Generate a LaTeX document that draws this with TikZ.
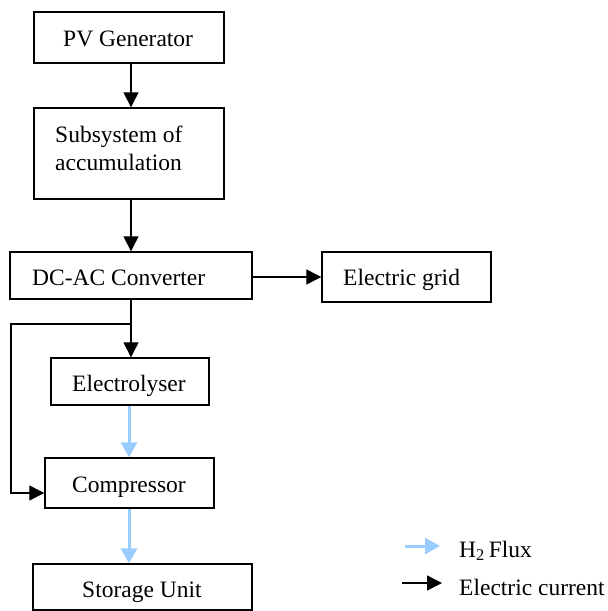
\documentclass[tikz,border=0pt]{standalone}
\usepackage{fontspec}
\setmainfont{Liberation Serif}
\usetikzlibrary{arrows.meta}
\definecolor{hblue}{RGB}{153,204,255}
\begin{document}
\begin{tikzpicture}[x=1pt,y=-1pt,
  box/.style={draw,line width=1.4pt,inner sep=0pt},
  txt/.style={font=\fontsize{23.5}{28}\selectfont,inner sep=0pt,anchor=base west},
  elec/.style={line width=1.3pt,-{Triangle[length=15pt,width=15pt]}},
  flux/.style={hblue,line width=3pt,-{Triangle[length=15pt,width=16pt]}}]
\useasboundingbox (0,0) rectangle (608,611);
% boxes
\node[box,minimum width=190pt,minimum height=51pt] (pv) at (129,37.5) {};
\node[box,minimum width=190pt,minimum height=91pt] (sub) at (129,153.5) {};
\node[box,minimum width=242pt,minimum height=47pt] (dc) at (131,275.5) {};
\node[box,minimum width=169pt,minimum height=50pt] (grid) at (406.5,277) {};
\node[box,minimum width=158pt,minimum height=47pt] (el) at (130,381.5) {};
\node[box,minimum width=169pt,minimum height=50pt] (cp) at (129.5,483) {};
\node[box,minimum width=219pt,minimum height=46pt] (st) at (142.5,587) {};
% texts
\node[txt] (tpv) at (63,46) {PV Generator};
\node[txt] (tsub1) at (55,142) {Subsystem of};
\node[txt] (tsub2) at (55,170) {accumulation};
\node[txt] (tdc) at (32,285) {DC-AC Converter};
\node[txt] (tgrid) at (343,285) {Electric grid};
\node[txt] (tel) at (72,391) {Electrolyser};
\node[txt] (tcp) at (72,492) {Compressor};
\node[txt] (tst) at (82,597) {Storage Unit};
\node[txt] (lg1) at (459,557) {H\textsubscript{2}\,Flux};
\node[txt] (lg2) at (459,595) {Electric current};
% connectors
\coordinate (c1) at (131,0);
\coordinate (c2) at (129,0);
\coordinate (gy) at (0,277);
\coordinate (br) at (131,324);
\coordinate (lft) at (11,324);
\coordinate (fb) at (11,493);
\draw[elec] (pv.south -| c1) -- (sub.north -| c1);
\draw[elec] (sub.south -| c1) -- (dc.north -| c1);
\draw[elec] (dc.east |- gy) -- (grid.west |- gy);
\draw[elec] (dc.south -| c1) -- (el.north -| c1);
\draw[elec] (br) -- (lft) -- (fb) -- (cp.west |- fb);
\draw[flux] (el.south -| c2) -- (cp.north -| c2);
\draw[flux] (cp.south -| c2) -- (st.north -| c2);
% legend
\coordinate (l1a) at (405,546);
\coordinate (l1b) at (440,546);
\coordinate (l2a) at (402,583);
\coordinate (l2b) at (442,583);
\draw[flux] (l1a) -- (l1b);
\draw[elec] (l2a) -- (l2b);
\end{tikzpicture}
\end{document}
